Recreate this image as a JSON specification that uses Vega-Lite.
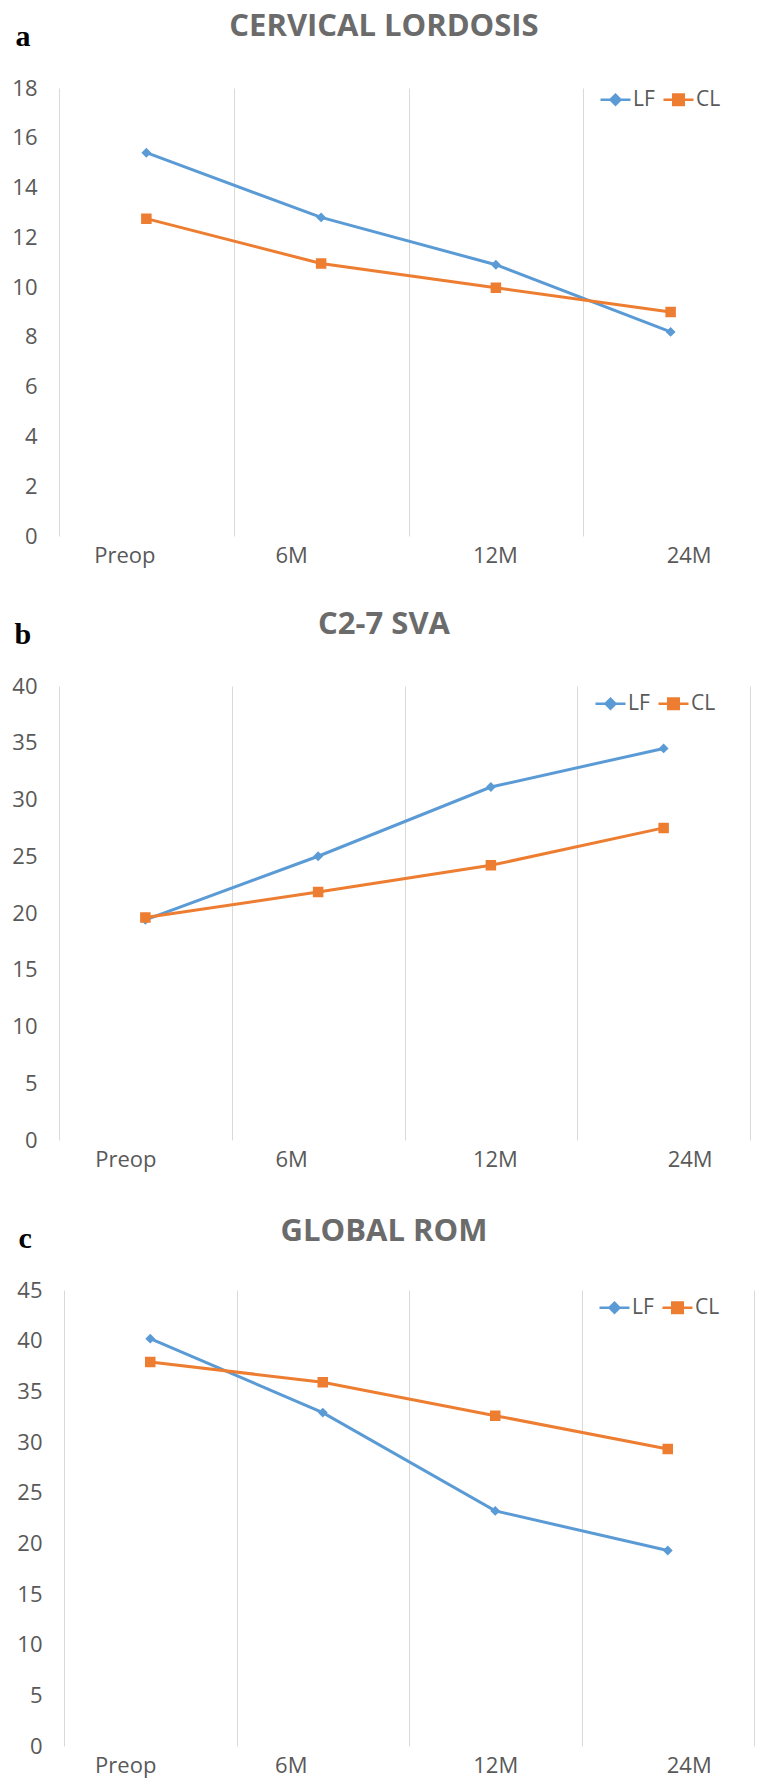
{
  "$schema": "https://vega.github.io/schema/vega-lite/v6.json",
  "padding": {"left": 11, "top": 11, "right": 0, "bottom": 20},
  "background": "white",
  "bounds": "flush",
  "spacing": 150,
  "resolve": {"scale": {"color": "independent", "shape": "independent"}, "legend": {"color": "independent", "shape": "independent"}},
  "config": {"view": {"stroke": null}},
  "datasets": {
    "a": [
      {"time": "Preop", "group": "LF", "value": 15.4},
      {"time": "6M", "group": "LF", "value": 12.8},
      {"time": "12M", "group": "LF", "value": 10.9},
      {"time": "24M", "group": "LF", "value": 8.2},
      {"time": "Preop", "group": "CL", "value": 12.75},
      {"time": "6M", "group": "CL", "value": 10.95},
      {"time": "12M", "group": "CL", "value": 9.97},
      {"time": "24M", "group": "CL", "value": 9.0}
    ],
    "b": [
      {"time": "Preop", "group": "LF", "value": 19.4},
      {"time": "6M", "group": "LF", "value": 25.0},
      {"time": "12M", "group": "LF", "value": 31.1},
      {"time": "24M", "group": "LF", "value": 34.5},
      {"time": "Preop", "group": "CL", "value": 19.6},
      {"time": "6M", "group": "CL", "value": 21.85},
      {"time": "12M", "group": "CL", "value": 24.2},
      {"time": "24M", "group": "CL", "value": 27.5}
    ],
    "c": [
      {"time": "Preop", "group": "LF", "value": 40.2},
      {"time": "6M", "group": "LF", "value": 32.9},
      {"time": "12M", "group": "LF", "value": 23.2},
      {"time": "24M", "group": "LF", "value": 19.3},
      {"time": "Preop", "group": "CL", "value": 37.9},
      {"time": "6M", "group": "CL", "value": 35.9},
      {"time": "12M", "group": "CL", "value": 32.6},
      {"time": "24M", "group": "CL", "value": 29.3}
    ]
  },
  "vconcat": [
    {
      "data": {"name": "a"},
      "width": 700,
      "height": 448,
      "title": {"text": "CERVICAL LORDOSIS", "font": "Open Sans", "fontSize": 31, "fontWeight": "bold", "color": "#6b6b6b", "anchor": "middle", "frame": "group", "dx": -25, "baseline": "alphabetic", "offset": -46},
      "encoding": {
        "x": {"field": "time", "type": "nominal", "sort": ["Preop", "6M", "12M", "24M"],
          "scale": {"type": "band", "paddingInner": 0, "paddingOuter": 0, "range": [0, 699]},
          "axis": {"title": null, "domain": false, "ticks": false, "tickBand": "extent", "grid": true, "gridColor": "#d9d9d9", "gridWidth": 1, "labelFont": "Open Sans", "labelFontSize": 22, "labelColor": "#595959", "labelPadding": 9, "labelAngle": 0,
            "labelOffset": {"condition": [{"test": "datum.value === 'Preop'", "value": -22}, {"test": "datum.value === '6M'", "value": -30}, {"test": "datum.value === '24M'", "value": 18}], "value": -1}}},
        "y": {"field": "value", "type": "quantitative", "scale": {"domain": [0, 18], "nice": false},
          "axis": {"title": "a", "titleFont": "Liberation Serif", "titleFontSize": 30, "titleFontWeight": "bold", "titleColor": "#000000", "titleAngle": 0, "titleAlign": "left", "titleBaseline": "alphabetic", "titleX": -44, "titleY": -43,
            "domain": false, "ticks": false, "tickSize": 0, "grid": false, "labelFont": "Open Sans", "labelFontSize": 22, "labelColor": "#595959", "labelPadding": 22, "values": [0, 2, 4, 6, 8, 10, 12, 14, 16, 18]}},
        "color": {"field": "group", "type": "nominal", "scale": {"domain": ["LF", "CL"], "range": ["#5B9BD5", "#ED7D31"]},
          "legend": {"orient": "none", "legendX": 540, "legendY": -5, "direction": "horizontal", "title": null, "padding": 0, "labelFont": "Open Sans", "labelFontSize": 21, "labelColor": "#595959", "symbolSize": 900, "symbolStrokeWidth": 2.5, "labelOffset": 1, "columnPadding": 3}}
      },
      "layer": [
        {"mark": {"type": "line", "strokeWidth": 3}},
        {"mark": {"type": "point", "filled": true, "opacity": 1, "size": 900},
          "encoding": {
            "shape": {"field": "group", "type": "nominal", "scale": {"domain": ["LF", "CL"], "range": ["M-1,0L1,0M-0.33,0L0,-0.33L0.33,0L0,0.33Z", "M-1,0L1,0M-0.35,-0.35L0.35,-0.35L0.35,0.35L-0.35,0.35Z"]},
              "legend": {"orient": "none", "legendX": 540, "legendY": -5, "direction": "horizontal", "title": null, "padding": 0, "labelFont": "Open Sans", "labelFontSize": 21, "labelColor": "#595959", "symbolSize": 900, "symbolStrokeWidth": 2.5, "labelOffset": 1, "columnPadding": 3}}}}
      ]
    },
    {
      "data": {"name": "b"},
      "width": 700,
      "height": 454,
      "title": {"text": "C2-7 SVA", "font": "Open Sans", "fontSize": 31, "fontWeight": "bold", "color": "#6b6b6b", "anchor": "middle", "frame": "group", "dx": -25, "baseline": "alphabetic", "offset": -46},
      "encoding": {
        "x": {"field": "time", "type": "nominal", "sort": ["Preop", "6M", "12M", "24M"],
          "scale": {"type": "band", "paddingInner": 0, "paddingOuter": 0, "range": [0, 691]},
          "axis": {"title": null, "domain": false, "ticks": false, "tickBand": "extent", "grid": true, "gridColor": "#d9d9d9", "gridWidth": 1, "labelFont": "Open Sans", "labelFontSize": 22, "labelColor": "#595959", "labelPadding": 9, "labelAngle": 0,
            "labelOffset": {"condition": [{"test": "datum.value === 'Preop'", "value": -20}, {"test": "datum.value === '6M'", "value": -27}, {"test": "datum.value === '24M'", "value": 26}], "value": 4}}},
        "y": {"field": "value", "type": "quantitative", "scale": {"domain": [0, 40], "nice": false},
          "axis": {"title": "b", "titleFont": "Liberation Serif", "titleFontSize": 30, "titleFontWeight": "bold", "titleColor": "#000000", "titleAngle": 0, "titleAlign": "left", "titleBaseline": "alphabetic", "titleX": -45, "titleY": -43,
            "domain": false, "ticks": false, "tickSize": 0, "grid": false, "labelFont": "Open Sans", "labelFontSize": 22, "labelColor": "#595959", "labelPadding": 22, "values": [0, 5, 10, 15, 20, 25, 30, 35, 40]}},
        "color": {"field": "group", "type": "nominal", "scale": {"domain": ["LF", "CL"], "range": ["#5B9BD5", "#ED7D31"]},
          "legend": {"orient": "none", "legendX": 535, "legendY": 1, "direction": "horizontal", "title": null, "padding": 0, "labelFont": "Open Sans", "labelFontSize": 21, "labelColor": "#595959", "symbolSize": 900, "symbolStrokeWidth": 2.5, "labelOffset": 1, "columnPadding": 3}}
      },
      "layer": [
        {"mark": {"type": "line", "strokeWidth": 3}},
        {"mark": {"type": "point", "filled": true, "opacity": 1, "size": 900},
          "encoding": {
            "shape": {"field": "group", "type": "nominal", "scale": {"domain": ["LF", "CL"], "range": ["M-1,0L1,0M-0.33,0L0,-0.33L0.33,0L0,0.33Z", "M-1,0L1,0M-0.35,-0.35L0.35,-0.35L0.35,0.35L-0.35,0.35Z"]},
              "legend": {"orient": "none", "legendX": 535, "legendY": 1, "direction": "horizontal", "title": null, "padding": 0, "labelFont": "Open Sans", "labelFontSize": 21, "labelColor": "#595959", "symbolSize": 900, "symbolStrokeWidth": 2.5, "labelOffset": 1, "columnPadding": 3}}}}
      ]
    },
    {
      "data": {"name": "c"},
      "width": 700,
      "height": 456,
      "title": {"text": "GLOBAL ROM", "font": "Open Sans", "fontSize": 31, "fontWeight": "bold", "color": "#6b6b6b", "anchor": "middle", "frame": "group", "dx": -25, "baseline": "alphabetic", "offset": -49},
      "encoding": {
        "x": {"field": "time", "type": "nominal", "sort": ["Preop", "6M", "12M", "24M"],
          "scale": {"type": "band", "paddingInner": 0, "paddingOuter": 0, "range": [5, 695]},
          "axis": {"title": null, "domain": false, "ticks": false, "tickBand": "extent", "grid": true, "gridColor": "#d9d9d9", "gridWidth": 1, "labelFont": "Open Sans", "labelFontSize": 22, "labelColor": "#595959", "labelPadding": 9, "labelAngle": 0,
            "labelOffset": {"condition": [{"test": "datum.value === 'Preop'", "value": -25}, {"test": "datum.value === '6M'", "value": -32}, {"test": "datum.value === '24M'", "value": 21}], "value": 0}}},
        "y": {"field": "value", "type": "quantitative", "scale": {"domain": [0, 45], "nice": false},
          "axis": {"title": "c", "titleFont": "Liberation Serif", "titleFontSize": 30, "titleFontWeight": "bold", "titleColor": "#000000", "titleAngle": 0, "titleAlign": "left", "titleBaseline": "alphabetic", "titleX": -46, "titleY": -43, "offset": -5,
            "domain": false, "ticks": false, "tickSize": 0, "grid": false, "labelFont": "Open Sans", "labelFontSize": 22, "labelColor": "#595959", "labelPadding": 22, "values": [0, 5, 10, 15, 20, 25, 30, 35, 40, 45]}},
        "color": {"field": "group", "type": "nominal", "scale": {"domain": ["LF", "CL"], "range": ["#5B9BD5", "#ED7D31"]},
          "legend": {"orient": "none", "legendX": 539, "legendY": 1, "direction": "horizontal", "title": null, "padding": 0, "labelFont": "Open Sans", "labelFontSize": 21, "labelColor": "#595959", "symbolSize": 900, "symbolStrokeWidth": 2.5, "labelOffset": 1, "columnPadding": 3}}
      },
      "layer": [
        {"mark": {"type": "line", "strokeWidth": 3}},
        {"mark": {"type": "point", "filled": true, "opacity": 1, "size": 900},
          "encoding": {
            "shape": {"field": "group", "type": "nominal", "scale": {"domain": ["LF", "CL"], "range": ["M-1,0L1,0M-0.33,0L0,-0.33L0.33,0L0,0.33Z", "M-1,0L1,0M-0.35,-0.35L0.35,-0.35L0.35,0.35L-0.35,0.35Z"]},
              "legend": {"orient": "none", "legendX": 539, "legendY": 1, "direction": "horizontal", "title": null, "padding": 0, "labelFont": "Open Sans", "labelFontSize": 21, "labelColor": "#595959", "symbolSize": 900, "symbolStrokeWidth": 2.5, "labelOffset": 1, "columnPadding": 3}}}}
      ]
    }
  ]
}
